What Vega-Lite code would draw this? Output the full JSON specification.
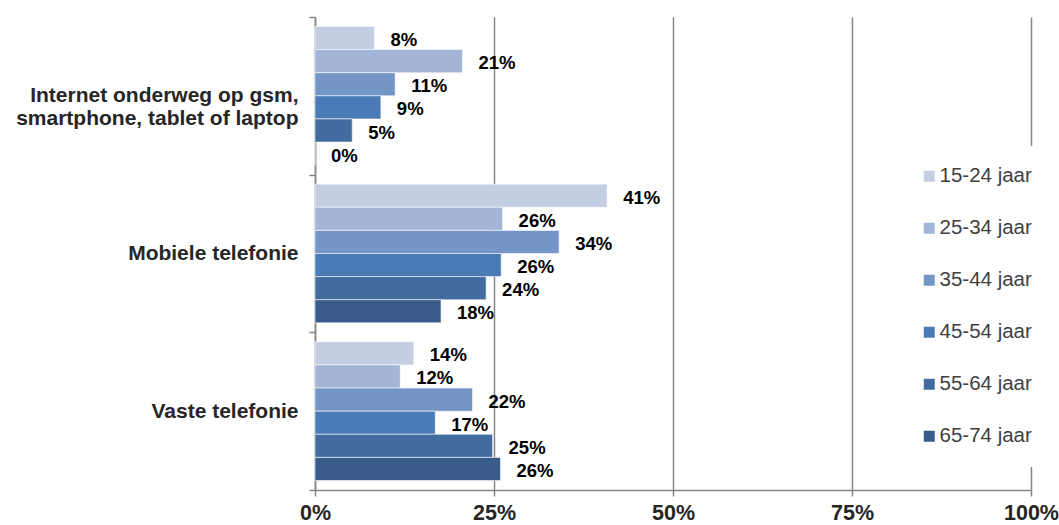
{
  "$schema": "https://vega.github.io/schema/vega-lite/v6.json",
  "width": 716,
  "height": 473,
  "autosize": "none",
  "padding": {"left": 315, "top": 17, "right": 28, "bottom": 35},
  "background": "white",
  "config": {
    "font": "Liberation Sans",
    "view": {"stroke": null}
  },
  "data": {
    "values": [
      {"cat": "Internet onderweg op gsm,\u00a0\u00a0|smartphone, tablet of laptop", "age": "15-24 jaar", "value": 0.083},
      {"cat": "Internet onderweg op gsm,\u00a0\u00a0|smartphone, tablet of laptop", "age": "25-34 jaar", "value": 0.206},
      {"cat": "Internet onderweg op gsm,\u00a0\u00a0|smartphone, tablet of laptop", "age": "35-44 jaar", "value": 0.112},
      {"cat": "Internet onderweg op gsm,\u00a0\u00a0|smartphone, tablet of laptop", "age": "45-54 jaar", "value": 0.092},
      {"cat": "Internet onderweg op gsm,\u00a0\u00a0|smartphone, tablet of laptop", "age": "55-64 jaar", "value": 0.052},
      {"cat": "Internet onderweg op gsm,\u00a0\u00a0|smartphone, tablet of laptop", "age": "65-74 jaar", "value": 0.0},
      {"cat": "Mobiele telefonie", "age": "15-24 jaar", "value": 0.408},
      {"cat": "Mobiele telefonie", "age": "25-34 jaar", "value": 0.262},
      {"cat": "Mobiele telefonie", "age": "35-44 jaar", "value": 0.341},
      {"cat": "Mobiele telefonie", "age": "45-54 jaar", "value": 0.26},
      {"cat": "Mobiele telefonie", "age": "55-64 jaar", "value": 0.239},
      {"cat": "Mobiele telefonie", "age": "65-74 jaar", "value": 0.176},
      {"cat": "Vaste telefonie", "age": "15-24 jaar", "value": 0.138},
      {"cat": "Vaste telefonie", "age": "25-34 jaar", "value": 0.119},
      {"cat": "Vaste telefonie", "age": "35-44 jaar", "value": 0.22},
      {"cat": "Vaste telefonie", "age": "45-54 jaar", "value": 0.168},
      {"cat": "Vaste telefonie", "age": "55-64 jaar", "value": 0.248},
      {"cat": "Vaste telefonie", "age": "65-74 jaar", "value": 0.259}
    ]
  },
  "encoding": {
    "y": {
      "field": "cat",
      "type": "nominal",
      "sort": null,
      "title": null,
      "scale": {"paddingInner": 0, "paddingOuter": 0},
      "axis": {
        "tickBand": "extent",
        "labelExpr": "split(datum.label, '|')",
        "labelFont": "Liberation Sans",
        "labelFontWeight": "bold",
        "labelFontSize": 21,
        "labelColor": "#262626",
        "labelLineHeight": 23,
        "labelLimit": 0,
        "labelPadding": 11,
        "tickSize": 6,
        "tickColor": "#868686",
        "tickWidth": 1.5,
        "domainColor": "#868686",
        "domainWidth": 1.5,
        "grid": false
      }
    },
    "yOffset": {
      "field": "age",
      "type": "nominal",
      "sort": null,
      "scale": {"paddingInner": 0, "paddingOuter": 0.41}
    },
    "x": {
      "field": "value",
      "type": "quantitative",
      "title": null,
      "scale": {"domain": [0, 1], "nice": false},
      "axis": {
        "values": [0, 0.25, 0.5, 0.75, 1],
        "format": ".0%",
        "labelFont": "Liberation Sans",
        "labelFontWeight": "bold",
        "labelFontSize": 21.5,
        "labelColor": "#262626",
        "labelPadding": 6,
        "labelFlush": false,
        "tickSize": 6,
        "tickColor": "#868686",
        "tickWidth": 1.5,
        "domainColor": "#868686",
        "domainWidth": 1.5,
        "grid": true,
        "gridColor": "#868686",
        "gridWidth": 1.5
      }
    }
  },
  "layer": [
    {
      "mark": {"type": "bar", "stroke": "white", "strokeWidth": 0.8, "strokeOpacity": 0.7},
      "encoding": {
        "color": {
          "field": "age",
          "type": "nominal",
          "sort": null,
          "scale": {
            "domain": ["15-24 jaar", "25-34 jaar", "35-44 jaar", "45-54 jaar", "55-64 jaar", "65-74 jaar"],
            "range": ["#c3cee3", "#a2b5d7", "#7496c6", "#4a7bb6", "#426c9f", "#3a5c8b"]
          },
          "legend": {
            "title": null,
            "orient": "none",
            "legendX": 584,
            "legendY": 129,
            "padding": 20,
            "fillColor": "white",
            "symbolType": "square",
            "symbolSize": 121,
            "symbolStrokeWidth": 0,
            "labelFont": "Liberation Sans",
            "labelFontSize": 20.5,
            "labelColor": "#404040",
            "labelOffset": 0,
            "rowPadding": 31
          }
        }
      }
    },
    {
      "mark": {
        "type": "text",
        "align": "left",
        "baseline": "middle",
        "dx": 16,
        "dy": 2,
        "font": "Liberation Sans",
        "fontWeight": "bold",
        "fontSize": 18.5,
        "color": "#000000"
      },
      "encoding": {
        "text": {"field": "value", "type": "quantitative", "format": ".0%"}
      }
    }
  ]
}
